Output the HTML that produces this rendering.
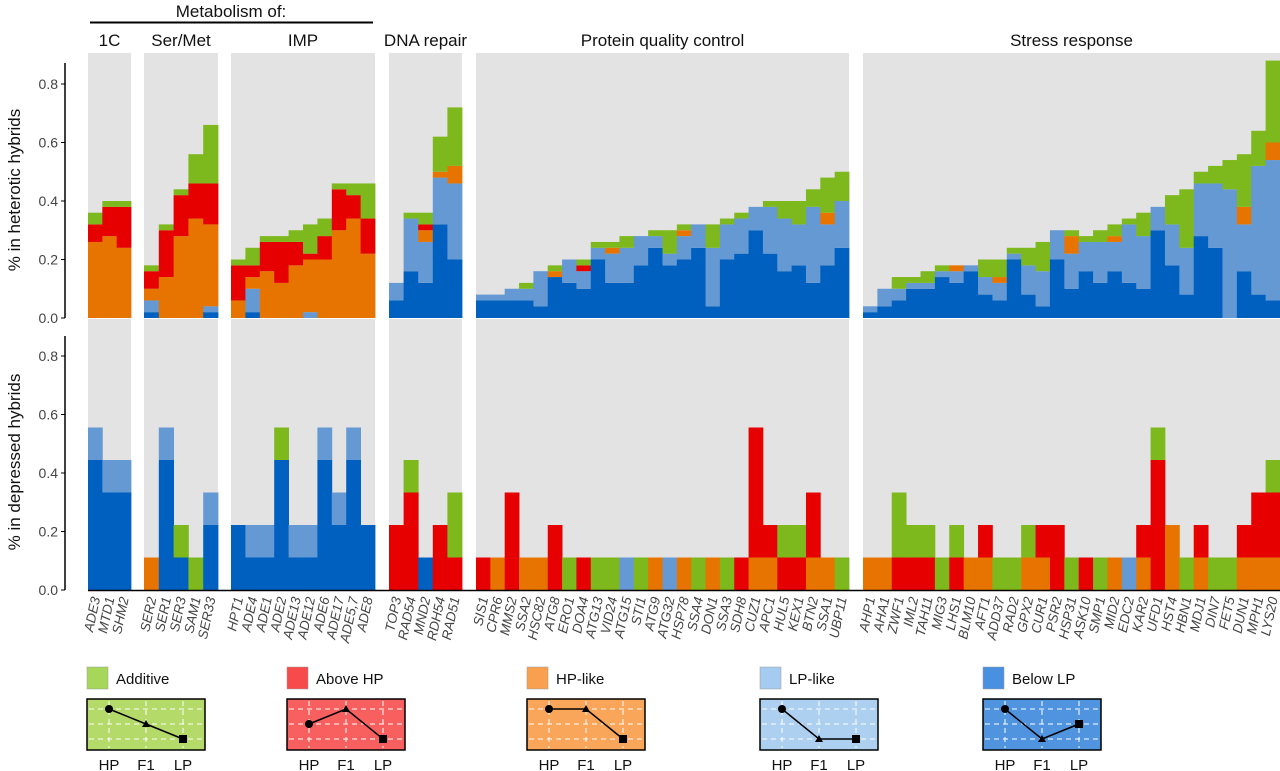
<!DOCTYPE html>
<html><head><meta charset="utf-8"><style>
body{margin:0;background:#fff}
svg{display:block;font-family:"Liberation Sans",Arial,sans-serif}
</style></head><body>
<svg id="chart" width="1280" height="771" viewBox="0 0 1280 771" xmlns="http://www.w3.org/2000/svg">
<g id="bg"></g><g id="bars"></g><g id="axes"></g><g id="labels"></g><g id="legend"></g>
</svg>
<script>
// Categories per panel
const panelNames = ["1C","Ser/Met","IMP","DNA repair","Protein quality control","Stress response"];
const genes1C = ["ADE3","MTD1","SHM2"];
const genesSer = ["SER2","SER1","SER3","SAM1","SER33"];
const genesIMP = ["HPT1","ADE4","ADE1","ADE2","ADE13","ADE12","ADE6","ADE17","ADE5,7","ADE8"];
const genesDNA = ["TOP3","RAD54","MND2","RDH54","RAD51"];
const genesPQC = ["SIS1","CPR6","MMS2","SSA2","HSC82","ATG8","ERO1","DOA4","ATG13","VID24","ATG15","STI1","ATG9","ATG32","HSP78","SSA4","DON1","SSA3","SDH8","CUZ1","APC1","HUL5","KEX1","BTN2","SSA1","UBP11"];
const genesStress = ["AHP1","AHA1","ZWF1","IML2","TAH11","MIG3","LHS1","BLM10","AFT1","ADD37","RAD2","GPX2","CUR1","PSR2","HSP31","ASK10","SMP1","MID2","EDC2","KAR2","UFD1","HST4","HBN1","MDJ1","DIN7","FET5","DUN1","MPH1","LYS20"];
// Series order: [Below LP, LP-like, HP-like, Above HP, Additive]
const seriesNames = ["Below LP","LP-like","HP-like","Above HP","Additive"];
// Heterotic (top) fractions
const het1C = [[0,0,.26,.06,.04],[0,0,.28,.10,.02],[0,0,.24,.14,.02]];
const hetSer = [[.02,.04,.04,.06,.02],[0,0,.14,.16,.02],[0,0,.28,.14,.02],[0,0,.34,.12,.10],[.02,.02,.28,.14,.20]];
const hetIMP = [[0,0,.06,.12,.02],[.02,.08,.04,.04,.06],[0,0,.16,.10,.02],[0,0,.12,.14,.02],[0,0,.18,.08,.04],[0,.02,.18,.02,.10],[0,0,.20,.08,.06],[0,0,.30,.14,.02],[0,0,.34,.08,.04],[0,0,.22,.12,.12]];
const hetDNA = [[.06,.06,0,0,0],[.16,.18,0,0,.02],[.12,.14,.04,.02,.04],[.32,.16,.02,0,.12],[.20,.26,.06,0,.20]];
const hetPQC = [[.06,.02,0,0,0],[.06,.02,0,0,0],[.06,.04,0,0,0],[.06,.04,0,0,.02],[.04,.12,0,0,0],[.14,0,.02,0,.02],[.12,.08,0,0,0],[.10,.06,0,.02,.02],[.20,.04,0,0,.02],[.12,.10,.02,0,.02],[.12,.12,0,0,.04],[.18,.10,0,0,0],[.24,.04,0,0,.02],[.18,.04,0,0,.08],[.20,.08,.02,0,.02],[.24,.08,0,0,0],[.04,.20,0,0,.08],[.20,.12,0,0,.02],[.22,.12,0,0,.02],[.30,.08,0,0,0],[.22,.16,0,0,.02],[.16,.18,0,0,.06],[.18,.14,0,0,.08],[.12,.26,0,0,.06],[.18,.14,.04,0,.12],[.24,.16,0,0,.10]];
const hetStress = [[.02,.02,0,0,0],[.04,.06,0,0,0],[.06,.04,0,0,.04],[.10,.02,0,0,.02],[.10,.02,0,0,.04],[.14,.02,0,0,.02],[.12,.04,.02,0,0],[.16,.02,0,0,0],[.08,.06,0,0,.06],[.06,.06,.02,0,.06],[.20,.02,0,0,.02],[.08,.10,0,0,.06],[.04,.12,0,0,.10],[.20,.10,0,0,0],[.10,.12,.06,0,.02],[.16,.10,0,0,.02],[.12,.14,0,0,.04],[.16,.10,.02,0,.04],[.12,.20,0,0,.02],[.10,.18,0,0,.08],[.30,.08,0,0,0],[.18,.14,0,0,.10],[.08,.16,0,0,.20],[.28,.18,0,0,.04],[.24,.22,0,0,.06],[0,.44,0,0,.10],[.16,.16,.06,0,.18],[.08,.44,0,0,.12],[.06,.48,.06,0,.28]];
// Depressed (bottom) counts in ninths
const dep1C = [[4,1,0,0,0],[3,1,0,0,0],[3,1,0,0,0]];
const depSer = [[0,0,1,0,0],[4,1,0,0,0],[1,0,0,0,1],[0,0,0,0,1],[2,1,0,0,0]];
const depIMP = [[2,0,0,0,0],[1,1,0,0,0],[1,1,0,0,0],[4,0,0,0,1],[1,1,0,0,0],[1,1,0,0,0],[4,1,0,0,0],[2,1,0,0,0],[4,1,0,0,0],[2,0,0,0,0]];
const depDNA = [[0,0,0,2,0],[0,0,0,3,1],[1,0,0,0,0],[0,0,0,2,0],[0,0,0,1,2]];
const depPQC = [[0,0,0,1,0],[0,0,1,0,0],[0,0,0,3,0],[0,0,1,0,0],[0,0,1,0,0],[0,0,0,2,0],[0,0,0,0,1],[0,0,0,1,0],[0,0,0,0,1],[0,0,0,0,1],[0,1,0,0,0],[0,0,0,0,1],[0,0,1,0,0],[0,1,0,0,0],[0,0,1,0,0],[0,0,0,0,1],[0,0,1,0,0],[0,0,0,0,1],[0,0,0,1,0],[0,0,1,4,0],[0,0,1,1,0],[0,0,0,1,1],[0,0,0,1,1],[0,0,1,2,0],[0,0,1,0,0],[0,0,0,0,1]];
const depStress = [[0,0,1,0,0],[0,0,1,0,0],[0,0,0,1,2],[0,0,0,1,1],[0,0,0,1,1],[0,0,0,0,1],[0,0,0,1,1],[0,0,1,0,0],[0,0,1,1,0],[0,0,0,0,1],[0,0,0,0,1],[0,0,1,0,1],[0,0,1,1,0],[0,0,0,2,0],[0,0,0,0,1],[0,0,0,1,0],[0,0,0,0,1],[0,0,1,0,0],[0,1,0,0,0],[0,0,1,1,0],[0,0,0,4,1],[0,0,2,0,0],[0,0,0,0,1],[0,0,1,1,0],[0,0,0,0,1],[0,0,0,0,1],[0,0,1,1,0],[0,0,1,2,0],[0,0,1,2,1]];
const yTicks = [0.0,0.2,0.4,0.6,0.8];
const yTickLabels = ["0.0","0.2","0.4","0.6","0.8"];

const NS="http://www.w3.org/2000/svg";
const colors=["#0060bf","#6499d4","#e87400","#e60000","#7db81c"];
const panelX=[[88,131],[144,218],[231,375],[389,462],[476,849],[863,1280]];
const genes=[genes1C,genesSer,genesIMP,genesDNA,genesPQC,genesStress];
const het=[het1C,hetSer,hetIMP,hetDNA,hetPQC,hetStress];
const dep=[dep1C,depSer,depIMP,depDNA,depPQC,depStress];
const topY0=318, botY0=590, pxPerUnit=292.5;
function yTop(v){return topY0-v*pxPerUnit;}
function yBot(v){return botY0-v*pxPerUnit;}
function mk(tag,attrs,parent){const e=document.createElementNS(NS,tag);for(const k in attrs)e.setAttribute(k,attrs[k]);parent.appendChild(e);return e;}
const gBg=document.getElementById('bg'),gBars=document.getElementById('bars'),gAx=document.getElementById('axes'),gLab=document.getElementById('labels'),gLeg=document.getElementById('legend');

panelX.forEach((p,pi)=>{
  let r=mk('rect',{x:p[0],y:53,width:p[1]-p[0],height:265,fill:'#e3e3e3'},gBg);
  
  
  r=mk('rect',{x:p[0],y:319,width:p[1]-p[0],height:271,fill:'#e3e3e3'},gBg);
  
  
  const n=genes[pi].length, w=(p[1]-p[0])/n;
  genes[pi].forEach((g,i)=>{
    const x=p[0]+i*w;
    let acc=0;
    het[pi][i].forEach((v,s)=>{ if(v<=0)return;
      const b=mk('rect',{x:x,y:yTop(acc+v),width:w+0.4,height:v*pxPerUnit,fill:colors[s]},gBars);
      
      
      acc+=v;});
    acc=0;
    dep[pi][i].forEach((c,s)=>{ if(c<=0)return; const v=c/9;
      const b=mk('rect',{x:x,y:yBot(acc+v),width:w+0.4,height:v*pxPerUnit,fill:colors[s]},gBars);
      
      
      acc+=v;});
    const cx=x+w/2+5;
    const t=mk('text',{x:0,y:0,transform:`translate(${cx},598) rotate(-78)`,'text-anchor':'end','font-size':13.5,'font-style':'italic',fill:'#444'},gLab);
    t.textContent=g;
    
    
  });
  const h=mk('text',{x:(p[0]+p[1])/2,y:46,'text-anchor':'middle','font-size':17,fill:'#111'},gLab);
  h.textContent=panelNames[pi];
  
  
});
// x baseline bottom
let bl=mk('line',{x1:88,x2:1280,y1:590.5,y2:590.5,stroke:'#000','stroke-width':1.5},gAx);


// y axes
[[yTop,63,318],[yBot,336,590]].forEach(([f,y1,y2],k)=>{
  const a=mk('line',{x1:65,x2:65,y1:y1,y2:y2,stroke:'#000','stroke-width':1.5},gAx);
  
  
  yTicks.forEach((v,i)=>{
    mk('line',{x1:61,x2:65,y1:f(v),y2:f(v),stroke:'#000'},gAx);
    const t=mk('text',{x:58,y:f(v)+5,'text-anchor':'end','font-size':14,fill:'#444'},gAx);
    t.textContent=yTickLabels[i];
    
    
  });
});
</script>
<g></g>
<script>
(function(){
const svg=document.getElementById('chart');
const NS="http://www.w3.org/2000/svg";
function mk(tag,attrs,parent){const e=document.createElementNS(NS,tag);for(const k in attrs)e.setAttribute(k,attrs[k]);parent.appendChild(e);return e;}
const g=document.getElementById('legend');
let t=mk('text',{x:231,y:17,'text-anchor':'middle','font-size':17,fill:'#111'},g);t.textContent='Metabolism of:';


mk('line',{x1:90,x2:373,y1:22.5,y2:22.5,stroke:'#000','stroke-width':2},g);
t=mk('text',{transform:'translate(20,190) rotate(-90)','text-anchor':'middle','font-size':17,fill:'#111'},g);t.textContent='% in heterotic hybrids';


t=mk('text',{transform:'translate(20,462) rotate(-90)','text-anchor':'middle','font-size':17,fill:'#111'},g);t.textContent='% in depressed hybrids';


const names=["Additive","Above HP","HP-like","LP-like","Below LP"];
const sq=["#a6d75b","#f74b4b","#f8a04e","#a5cbf0","#4a90e0"];
const box=["#b4da6a","#f86060","#f9a65a","#add0f1","#5094e0"];
const lx=[87,287,527,760,983];
const pat=[[0,1,2],[1,0,2],[0,0,2],[0,2,2],[0,2,1]];
names.forEach((n,i)=>{
  const x=lx[i];
  const s=mk('rect',{x:x,y:667,width:21,height:22,fill:sq[i],stroke:'#999','stroke-width':0.5},g);
  
  
  const tt=mk('text',{x:x+29,y:684,'font-size':15,fill:'#111'},g);tt.textContent=n;
  
  
  const b=mk('rect',{x:x,y:699,width:118,height:51,fill:box[i],stroke:'#000','stroke-width':1.5},g);
  
  
  const px=[x+22,x+59,x+96], py=[y=>0,0,0];
  const lv=[709,724,739];
  lv.forEach(yy=>mk('line',{x1:x+2,x2:x+116,y1:yy,y2:yy,stroke:'#fff','stroke-dasharray':'5,4','stroke-width':1},g));
  px.forEach(xx=>mk('line',{x1:xx,x2:xx,y1:701,y2:748,stroke:'#fff','stroke-dasharray':'5,4','stroke-width':1},g));
  const pts=pat[i].map((l,k)=>[px[k],lv[l]]);
  mk('polyline',{points:pts.map(p=>p.join(',')).join(' '),fill:'none',stroke:'#000','stroke-width':1.5},g);
  mk('circle',{cx:pts[0][0],cy:pts[0][1],r:4,fill:'#000'},g);
  mk('polygon',{points:`${pts[1][0]},${pts[1][1]-4} ${pts[1][0]-4},${pts[1][1]+3} ${pts[1][0]+4},${pts[1][1]+3}`,fill:'#000'},g);
  mk('rect',{x:pts[2][0]-4,y:pts[2][1]-4,width:8,height:8,fill:'#000'},g);
  ["HP","F1","LP"].forEach((l,k)=>{const q=mk('text',{x:px[k],y:770,'text-anchor':'middle','font-size':15,fill:'#111'},g);q.textContent=l;
    
    });
});
})();
</script>
</body></html>
